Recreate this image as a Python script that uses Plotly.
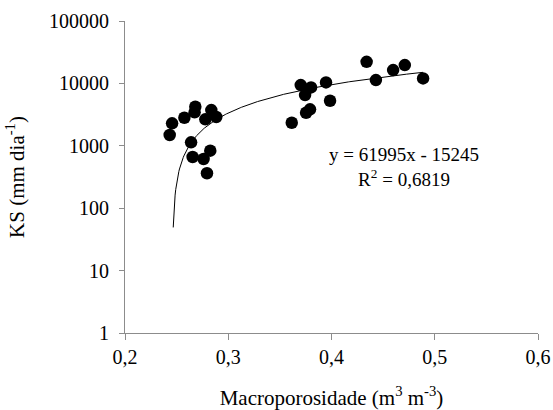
import numpy as np
import plotly.graph_objects as go

# Data
macroporosidade = [0.2456, 0.2433, 0.2575, 0.2681, 0.2674, 0.2836, 0.2778, 0.2884,
                   0.2640, 0.2655, 0.2761, 0.2826, 0.2794,
                   0.3702, 0.3802, 0.3947, 0.3744, 0.3986, 0.3754, 0.3792, 0.3615,
                   0.4340, 0.4430, 0.4597, 0.4710, 0.4887]
ks = [2291, 1489, 2818, 4225, 3436, 3740, 2655, 2890,
      1138, 662, 615, 835, 363,
      9394, 8630, 10380, 6500, 5270, 3388, 3837, 2342,
      22170, 11300, 16330, 19630, 12020]

# Trend line coefficients shown in the chart
slope = 61995
intercept = -15245
trend_x_start = 0.2467
trend_x_end = 0.4887

x_tickvals = [0.2, 0.3, 0.4, 0.5, 0.6]
x_ticktext = ["0,2", "0,3", "0,4", "0,5", "0,6"]
y_tickvals = [1, 10, 100, 1000, 10000, 100000]
y_ticktext = ["1", "10", "100", "1000", "10000", "100000"]

tx = np.linspace(trend_x_start, trend_x_end, 400)
ty = slope * tx + intercept

font_family = "Liberation Serif"
axis_color = "#8c8c8c"

fig = go.Figure()
fig.add_trace(go.Scatter(x=tx, y=ty, mode="lines",
                         line=dict(color="black", width=1), hoverinfo="skip"))
fig.add_trace(go.Scatter(x=macroporosidade, y=ks, mode="markers",
                         marker=dict(color="black", size=12.5)))

fig.update_layout(
    width=553, height=410,
    margin=dict(l=124.5, r=15, t=20.7, b=76.7),
    plot_bgcolor="white", paper_bgcolor="white",
    showlegend=False,
    font=dict(family=font_family, size=18, color="black"),
    xaxis=dict(range=[0.2, 0.6], tickvals=x_tickvals, ticktext=x_ticktext,
               automargin=False, ticklabeloverflow="allow",
               showgrid=False, zeroline=False, showline=True, linecolor=axis_color,
               linewidth=1, ticks="outside", ticklen=6, tickcolor=axis_color,
               title=dict(text="Macroporosidade (m<sup>3</sup> m<sup>-3</sup>)",
                          font=dict(family=font_family, size=21), standoff=26),
               tickfont=dict(family=font_family, size=20)),
    yaxis=dict(type="log", range=[0, 5], tickvals=y_tickvals, ticktext=y_ticktext,
               automargin=False, ticklabelstandoff=6,
               showgrid=False, zeroline=False, showline=True, linecolor=axis_color,
               linewidth=1, ticks="outside", ticklen=5, tickcolor=axis_color,
               title=dict(text="KS (mm dia<sup>-1</sup>)",
                          font=dict(family=font_family, size=21), standoff=18),
               tickfont=dict(family=font_family, size=20)),
)

fig.add_annotation(x=0.470, y=2.653, xref="x", yref="y",
                   text="y = 61995x - 15245<br>R<sup>2</sup> = 0,6819",
                   showarrow=False, font=dict(family=font_family, size=19, color="black"),
                   align="center")

fig.write_html("out.html", config={"displayModeBar": False},
               post_script="document.body.style.margin='0';document.body.style.overflow='hidden';")
